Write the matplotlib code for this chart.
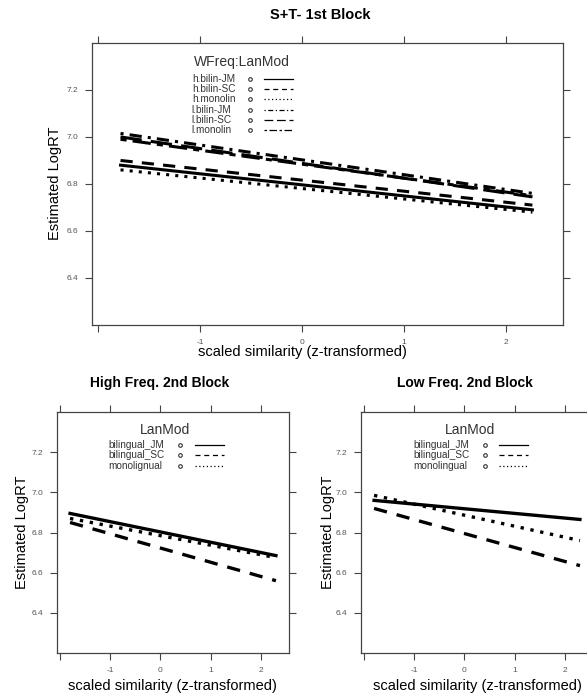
import numpy as np
import matplotlib
matplotlib.use('Agg')
import matplotlib.pyplot as plt
from matplotlib.lines import Line2D

plt.rcParams['font.family'] = ['Liberation Sans', 'DejaVu Sans']

# x range of the fitted lines
x_top = [-1.78, 2.26]
x_bot = [-1.8, 2.3]

# S+T- 1st block: (label, linestyle, start, end)
top_labels = ['h.bilin-JM', 'h.bilin-SC', 'h.monolin', 'l.bilin-JM', 'l.bilin-SC', 'l.monolin']
top_start = [6.88, 6.90, 6.86, 7.015, 7.00, 6.99]
top_end = [6.69, 6.71, 6.68, 6.76, 6.745, 6.75]

# 2nd block
hf_labels = ['bilingual_JM', 'bilingual_SC', 'monolignual']
hf_start = [6.895, 6.85, 6.87]
hf_end = [6.685, 6.56, 6.675]

lf_labels = ['bilingual_JM', 'bilingual_SC', 'monolingual']
lf_start = [6.96, 6.92, 6.985]
lf_end = [6.865, 6.635, 6.76]

# R/lattice lty 1..6
styles = ['-', (0, (4, 3)), (0, (1, 2)), (0, (1, 2, 4, 2)), (0, (7, 3)), (0, (2, 2, 6, 2))]

yticks = [6.4, 6.6, 6.8, 7.0, 7.2]
xticks = [-2, -1, 0, 1, 2]
xticklabels = ['', '-1', '0', '1', '2']

fig = plt.figure(figsize=(5.87, 6.95), dpi=100)


def setup(ax):
    ax.set_xlim(-2.06, 2.56)
    ax.set_ylim(6.2, 7.4)
    ax.set_xticks(xticks)
    ax.set_xticklabels(xticklabels)
    ax.set_yticks(yticks)
    ax.set_yticklabels(['%.1f' % v for v in yticks])
    ax.tick_params(direction='out', length=5, width=0.8, color='#444',
                   labelsize=6, labelcolor='#555', top=True, right=True,
                   pad=5)
    for s in ax.spines.values():
        s.set_color('#444')
        s.set_linewidth(0.9)


def draw_legend(ax, title, labels, tx, ty, lx, cx, l0, l1, step, fs):
    ax.text(tx, ty, title, transform=ax.transAxes, ha='center', va='center',
            fontsize=10, color='#333')
    for i, lab in enumerate(labels):
        y = ty - 0.06 - i * step
        ax.text(lx, y, lab, transform=ax.transAxes, ha='left', va='center',
                fontsize=fs, color='#333')
        ax.plot([cx], [y], 'o', ms=2.6, mfc='none', mec='#333', mew=0.8,
                transform=ax.transAxes)
        ax.add_line(Line2D([l0, l1], [y, y], transform=ax.transAxes,
                           color='black', lw=0.9, ls=styles[i]))


# top panel
ax = fig.add_axes([0.1567, 0.5324, 0.8024, 0.4058])
setup(ax)
for i in range(len(top_labels)):
    ax.plot(x_top, [top_start[i], top_end[i]], color='black', lw=2.2, ls=styles[i])
draw_legend(ax, 'WFreq:LanMod', top_labels, 0.318, 0.933, 0.212, 0.335,
            0.365, 0.427, 0.0365, 7.2)
fig.text(0.545, 0.978, 'S+T- 1st Block', ha='center', va='center',
         fontsize=10.5, fontweight='bold')
fig.text(0.094, 0.736, 'Estimated LogRT', rotation=90, ha='center',
         va='center', fontsize=10.5)
fig.text(0.516, 0.494, 'scaled similarity (z-transformed)', ha='center',
         va='center', fontsize=10.5)

# bottom left
ax = fig.add_axes([0.0971, 0.0604, 0.3952, 0.3468])
setup(ax)
for i in range(len(hf_labels)):
    ax.plot(x_bot, [hf_start[i], hf_end[i]], color='black', lw=2.4, ls=styles[i])
draw_legend(ax, 'LanMod', hf_labels, 0.466, 0.925, 0.22, 0.53,
            0.595, 0.72, 0.0436, 7.2)
fig.text(0.2726, 0.449, 'High Freq. 2nd Block', ha='center', va='center',
         fontsize=10, fontweight='bold')
fig.text(0.037, 0.234, 'Estimated LogRT', rotation=90, ha='center',
         va='center', fontsize=10.5)
fig.text(0.294, 0.013, 'scaled similarity (z-transformed)', ha='center',
         va='center', fontsize=10.5)

# bottom right
ax = fig.add_axes([0.615, 0.0604, 0.3952, 0.3468])
setup(ax)
for i in range(len(lf_labels)):
    ax.plot(x_bot, [lf_start[i], lf_end[i]], color='black', lw=2.4, ls=styles[i])
draw_legend(ax, 'LanMod', lf_labels, 0.470, 0.925, 0.224, 0.534,
            0.595, 0.72, 0.0436, 7.2)
fig.text(0.792, 0.449, 'Low Freq. 2nd Block', ha='center', va='center',
         fontsize=10, fontweight='bold')
fig.text(0.559, 0.234, 'Estimated LogRT', rotation=90, ha='center',
         va='center', fontsize=10.5)
fig.text(0.813, 0.013, 'scaled similarity (z-transformed)', ha='center',
         va='center', fontsize=10.5)

fig.savefig('out.png', dpi=100)
